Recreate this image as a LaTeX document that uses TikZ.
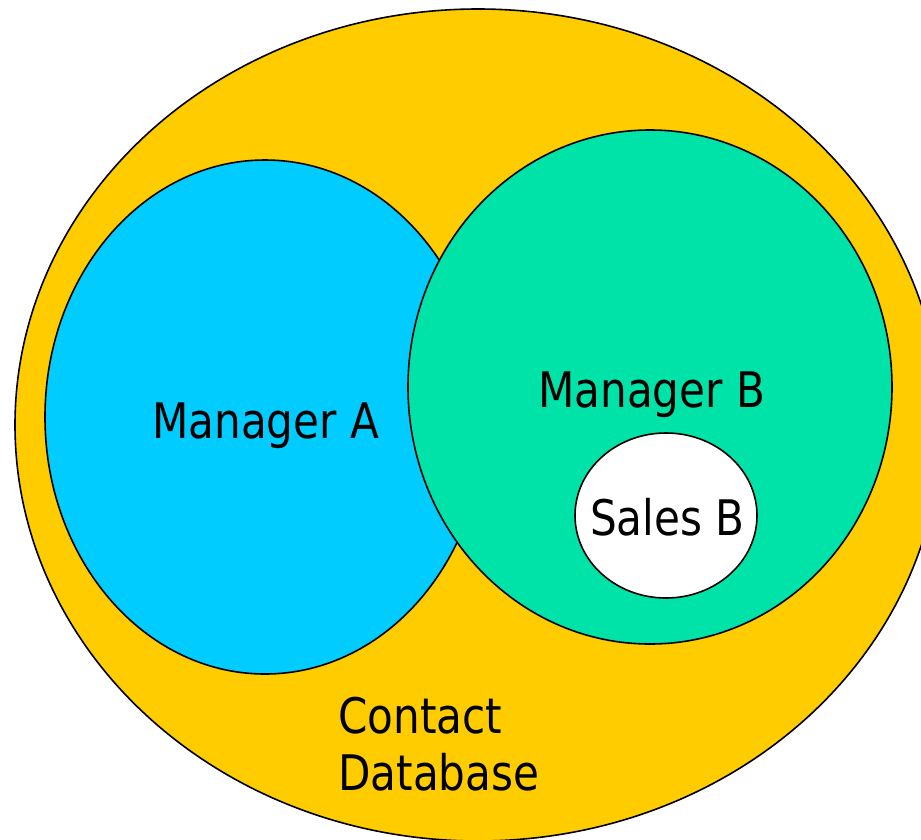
\documentclass[tikz,border=0pt]{standalone}
\usepackage{fontspec}
\setmainfont{DejaVu Sans}[FakeStretch=0.86]
\usetikzlibrary{shapes.geometric}
\definecolor{dbyellow}{RGB}{255,204,0}
\definecolor{mgrblue}{RGB}{0,204,255}
\definecolor{mgrgreen}{RGB}{0,227,168}
\tikzset{
  setshape/.style={ellipse, draw=black, line width=1.6pt, inner sep=0pt},
  lbl/.style={anchor=base west, inner sep=0pt, font=\fontsize{49}{57}\selectfont, text=black}
}
\begin{document}
\begin{tikzpicture}[x=1pt,y=-1pt]
\useasboundingbox (0,0) rectangle (921,839);
\clip (0,0) rectangle (921,839);
\node[setshape, fill=dbyellow, minimum width=926pt, minimum height=832pt] (db) at (478,425) {};
\node[setshape, fill=mgrblue, minimum width=440pt, minimum height=514pt] (ma) at (265,417) {};
\node[setshape, fill=mgrgreen, minimum width=484pt, minimum height=514pt] (mb) at (650,387) {};
\node[setshape, fill=white, minimum width=182pt, minimum height=165pt] (sb) at (666,515.5) {};
\node[lbl] (lma) at (152,438) {Manager A};
\node[lbl] (lmb) at (538,407) {Manager B};
\node[lbl] (lsb) at (590,535) {Sales B};
\node[lbl, align=left] (ldb) at (338,790) {Contact\\Database};
\end{tikzpicture}
\end{document}
